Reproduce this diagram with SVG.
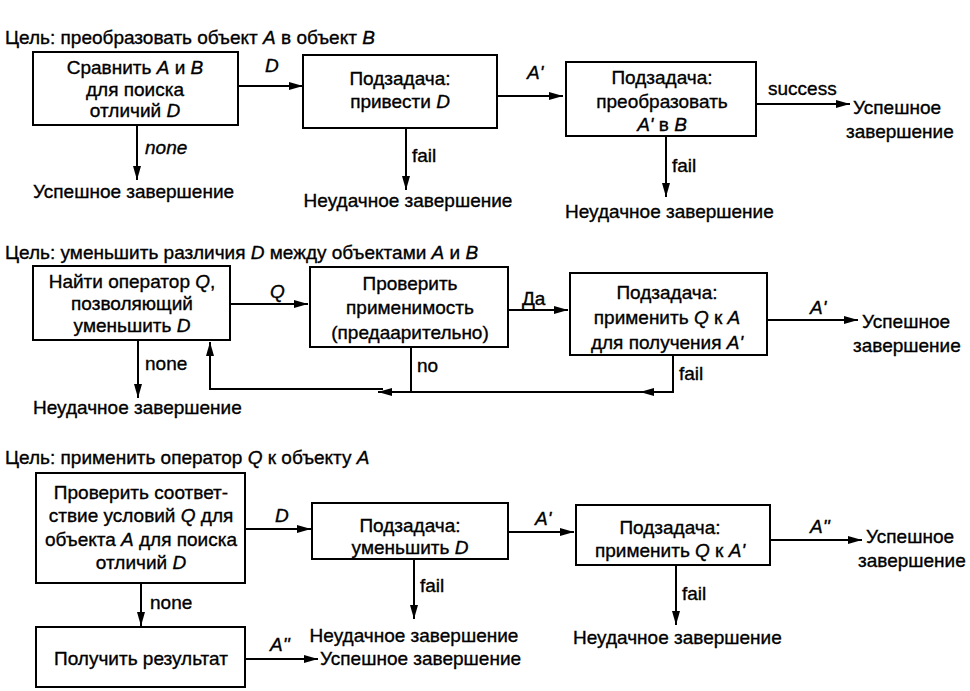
<svg xmlns="http://www.w3.org/2000/svg" width="970" height="691" viewBox="0 0 970 691">
<style>
text{font-family:"Liberation Sans",Arial,sans-serif;font-size:19px;fill:#000;stroke:#000;stroke-width:0.35}
.c{text-anchor:middle}
.i{font-style:italic}
.box{fill:#fff;stroke:#000;stroke-width:2}
.ln{fill:none;stroke:#000;stroke-width:2}
</style>
<defs>
<marker id="ar" viewBox="0 0 14 8" refX="14" refY="4" markerWidth="14" markerHeight="8" markerUnits="userSpaceOnUse" orient="auto">
<path d="M0,0 L14,4 L0,8 Z" fill="#000"/>
</marker>
</defs>
<rect width="970" height="691" fill="#fff"/>

<text x="5" y="44">Цель: преобразовать объект <tspan class="i">A</tspan> в объект <tspan class="i">B</tspan></text>
<text x="5" y="259">Цель: уменьшить различия <tspan class="i">D</tspan> между объектами <tspan class="i">A</tspan> и <tspan class="i">B</tspan></text>
<text x="5" y="464">Цель: применить оператор <tspan class="i">Q</tspan> к объекту <tspan class="i">A</tspan></text>

<g id="n1"><rect class="box" x="33" y="52" width="205" height="73"/>
<text class="c" x="135" y="74">Сравнить <tspan class="i">A</tspan> и <tspan class="i">B</tspan></text>
<text class="c" x="135" y="96">для поиска</text>
<text class="c" x="135" y="117">отличий <tspan class="i">D</tspan></text></g>
<g id="n2"><rect class="box" x="303" y="55" width="194" height="73"/>
<text class="c" x="400" y="85">Подзадача:</text>
<text class="c" x="400" y="108">привести <tspan class="i">D</tspan></text></g>
<g id="n3"><rect class="box" x="566" y="62" width="190" height="74"/>
<text class="c" x="662" y="84">Подзадача:</text>
<text class="c" x="662" y="108">преобразовать</text>
<text class="c" x="662" y="131"><tspan class="i">A'</tspan> в <tspan class="i">B</tspan></text></g>
<g id="t1"><text x="33" y="198">Успешное завершение</text></g>
<g id="t2"><text class="c" x="408" y="207">Неудачное завершение</text></g>
<g id="t3"><text x="853" y="114">Успешное</text><text x="846" y="138">завершение</text></g>
<g id="t4"><text x="565" y="218">Неудачное завершение</text></g>

<g id="n4"><rect class="box" x="33" y="266" width="197" height="74"/>
<text class="c" x="132" y="288">Найти оператор <tspan class="i">Q</tspan>,</text>
<text class="c" x="132" y="310">позволяющий</text>
<text class="c" x="132" y="332">уменьшить <tspan class="i">D</tspan></text></g>
<g id="n5"><rect class="box" x="310" y="267" width="198" height="80"/>
<text class="c" x="410" y="290">Проверить</text>
<text class="c" x="410" y="314">применимость</text>
<text class="c" x="410" y="339">(предаарительно)</text></g>
<g id="n6"><rect class="box" x="570" y="273" width="197" height="82"/>
<text class="c" x="667" y="299">Подзадача:</text>
<text class="c" x="667" y="324">применить <tspan class="i">Q</tspan> к <tspan class="i">A</tspan></text>
<text class="c" x="667" y="349">для получения <tspan class="i">A'</tspan></text></g>
<g id="t5"><text x="862" y="328">Успешное</text><text x="853" y="352">завершение</text></g>
<g id="t6"><text x="33" y="414">Неудачное завершение</text></g>

<g id="n7"><rect class="box" x="36" y="473" width="209" height="110"/>
<text class="c" x="141" y="499">Проверить соответ-</text>
<text class="c" x="141" y="522">ствие условий <tspan class="i">Q</tspan> для</text>
<text class="c" x="141" y="546">объекта <tspan class="i">A</tspan> для поиска</text>
<text class="c" x="141" y="569">отличий <tspan class="i">D</tspan></text></g>
<g id="n8"><rect class="box" x="312" y="503" width="196" height="56"/>
<text class="c" x="410" y="532">Подзадача:</text>
<text class="c" x="410" y="554">уменьшить <tspan class="i">D</tspan></text></g>
<g id="n9"><rect class="box" x="576" y="505" width="194" height="60"/>
<text class="c" x="670" y="534">Подзадача:</text>
<text class="c" x="670" y="557">применить <tspan class="i">Q</tspan> к <tspan class="i">A'</tspan></text></g>
<g id="n10"><rect class="box" x="36" y="627" width="209" height="60"/>
<text class="c" x="141" y="665">Получить результат</text></g>
<g id="t7"><text x="866" y="543">Успешное</text><text x="858" y="567">завершение</text></g>
<g id="t8"><text class="c" x="414" y="642">Неудачное завершение</text></g>
<g id="t9"><text x="320" y="665">Успешное завершение</text></g>
<g id="t10"><text x="573" y="644">Неудачное завершение</text></g>

<g id="connectors">
<path class="ln" d="M238,86 H303" marker-end="url(#ar)"/>
<path class="ln" d="M137,125 V180" marker-end="url(#ar)"/>
<path class="ln" d="M497,96 H563" marker-end="url(#ar)"/>
<path class="ln" d="M406,128 V190" marker-end="url(#ar)"/>
<path class="ln" d="M756,104 H850" marker-end="url(#ar)"/>
<path class="ln" d="M666,136 V197" marker-end="url(#ar)"/>

<path class="ln" d="M230,304 H308" marker-end="url(#ar)"/>
<path class="ln" d="M508,310 H568" marker-end="url(#ar)"/>
<path class="ln" d="M767,320 H858" marker-end="url(#ar)"/>
<path class="ln" d="M138,340 V398" marker-end="url(#ar)"/>
<path class="ln" d="M673,355 V392 H640" marker-end="url(#ar)"/>
<path class="ln" d="M645,392 H378" marker-end="url(#ar)"/>
<path class="ln" d="M383,389 H210 V342" marker-end="url(#ar)"/>
<path class="ln" d="M411,347 V392"/>

<path class="ln" d="M245,529 H311" marker-end="url(#ar)"/>
<path class="ln" d="M508,532 H574" marker-end="url(#ar)"/>
<path class="ln" d="M770,540 H862" marker-end="url(#ar)"/>
<path class="ln" d="M414,559 V619" marker-end="url(#ar)"/>
<path class="ln" d="M676,565 V625" marker-end="url(#ar)"/>
<path class="ln" d="M141,583 V626" marker-end="url(#ar)"/>
<path class="ln" d="M245,659 H318" marker-end="url(#ar)"/>

<text class="i" x="265" y="72">D</text>
<text class="i" x="145" y="154">none</text>
<text class="i" x="527" y="79">A'</text>
<text x="412" y="162">fail</text>
<text x="768" y="95">success</text>
<text x="672" y="172">fail</text>

<text class="i" x="270" y="298">Q</text>
<text x="522" y="305">Да</text>
<text class="i" x="810" y="314">A'</text>
<text x="145" y="370">none</text>
<text x="417" y="372">no</text>
<text x="679" y="380">fail</text>

<text class="i" x="275" y="522">D</text>
<text class="i" x="535" y="525">A'</text>
<text class="i" x="810" y="533">A''</text>
<text x="420" y="592">fail</text>
<text x="682" y="600">fail</text>
<text x="150" y="609">none</text>
<text class="i" x="270" y="651">A''</text>
</g>
</svg>
